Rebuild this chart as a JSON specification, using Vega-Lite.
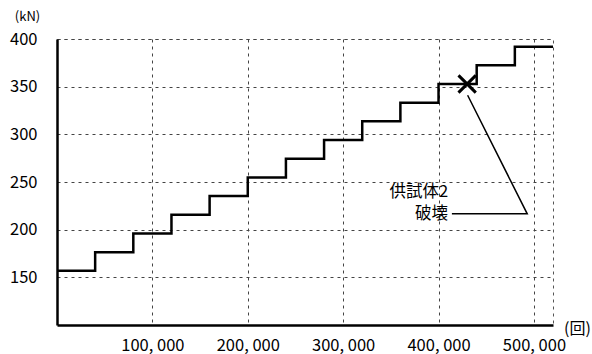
{
  "$schema": "https://vega.github.io/schema/vega-lite/v6.json",
  "width": 496,
  "height": 286,
  "autosize": "none",
  "padding": {"left": 57, "top": 39, "right": 39, "bottom": 29},
  "background": "white",
  "config": {
    "view": {"stroke": "#555", "strokeDash": [3, 4], "strokeWidth": 1},
    "font": "Noto Sans CJK JP"
  },
  "datasets": {
    "steps": [
      {"cycles": 0, "load": 156.8},
      {"cycles": 40000, "load": 176.4},
      {"cycles": 80000, "load": 196.0},
      {"cycles": 120000, "load": 215.6},
      {"cycles": 160000, "load": 235.2},
      {"cycles": 200000, "load": 254.8},
      {"cycles": 240000, "load": 274.4},
      {"cycles": 280000, "load": 294.0},
      {"cycles": 320000, "load": 313.6},
      {"cycles": 360000, "load": 333.2},
      {"cycles": 400000, "load": 352.8},
      {"cycles": 440000, "load": 372.4},
      {"cycles": 480000, "load": 392.0},
      {"cycles": 520000, "load": 392.0}
    ],
    "failure": [{"cycles": 430000, "load": 352.8}],
    "leader": [
      {"cycles": 414000, "load": 216.6, "o": 1},
      {"cycles": 493000, "load": 216.6, "o": 2},
      {"cycles": 430500, "load": 341.0, "o": 3}
    ],
    "labels": [
      {"cycles": 410000, "load": 239.5, "text": "供試体2"},
      {"cycles": 410000, "load": 216.6, "text": "破壊"}
    ]
  },
  "layer": [
    {
      "data": {"name": "steps"},
      "mark": {"type": "line", "interpolate": "step-after", "color": "black", "strokeWidth": 2.5},
      "encoding": {
        "x": {
          "field": "cycles", "type": "quantitative",
          "scale": {"domain": [0, 520000], "nice": false, "zero": false},
          "axis": {
            "values": [100000, 200000, 300000, 400000, 500000],
            "format": ",d",
            "labelExpr": "replace(datum.label, ',', ', ')",
            "grid": true, "gridColor": "#444", "gridDash": [3, 4], "gridWidth": 1,
            "domainColor": "black", "domainWidth": 2.5,
            "ticks": false, "labelPadding": 12,
            "labelFontSize": 16.5, "labelColor": "black",
            "title": "(回)", "titleFontSize": 16, "titleFontWeight": "normal",
            "titleAngle": 0, "titleX": 520, "titleY": 3,
            "titleAlign": "center", "titleBaseline": "middle", "titleColor": "black"
          }
        },
        "y": {
          "field": "load", "type": "quantitative",
          "scale": {"domain": [100, 400], "nice": false, "zero": false},
          "axis": {
            "values": [150, 200, 250, 300, 350, 400],
            "grid": true, "gridColor": "#444", "gridDash": [3, 4], "gridWidth": 1,
            "domainColor": "black", "domainWidth": 2.5,
            "ticks": false, "labelPadding": 20,
            "labelFontSize": 16.5, "labelColor": "black",
            "title": "(kN)", "titleFontSize": 13, "titleFontWeight": "normal",
            "titleAngle": 0, "titleX": -30, "titleY": -23,
            "titleAlign": "center", "titleBaseline": "middle", "titleColor": "black"
          }
        }
      }
    },
    {
      "data": {"name": "leader"},
      "mark": {"type": "line", "color": "black", "strokeWidth": 1.5},
      "encoding": {
        "x": {"field": "cycles", "type": "quantitative"},
        "y": {"field": "load", "type": "quantitative"},
        "order": {"field": "o"}
      }
    },
    {
      "data": {"name": "failure"},
      "mark": {"type": "point", "shape": "M-1,-1L1,1M-1,1L1,-1", "filled": false, "color": "black", "strokeWidth": 3, "size": 300, "opacity": 1},
      "encoding": {
        "x": {"field": "cycles", "type": "quantitative"},
        "y": {"field": "load", "type": "quantitative"}
      }
    },
    {
      "data": {"name": "labels"},
      "mark": {"type": "text", "align": "right", "baseline": "middle", "fontSize": 16.5, "color": "black"},
      "encoding": {
        "x": {"field": "cycles", "type": "quantitative"},
        "y": {"field": "load", "type": "quantitative"},
        "text": {"field": "text"}
      }
    }
  ]
}
